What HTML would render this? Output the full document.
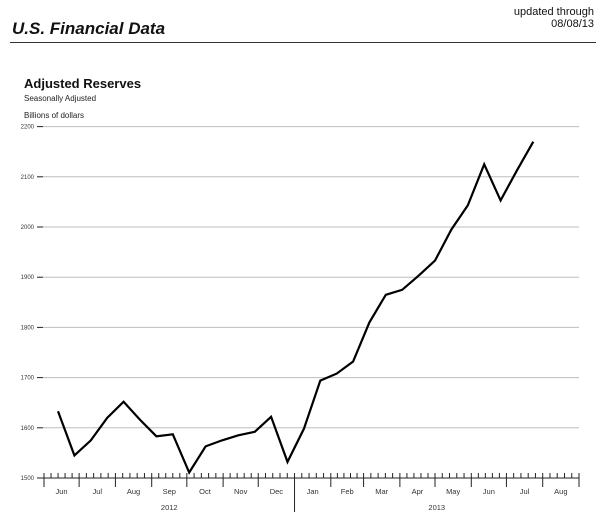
<!DOCTYPE html>
<html><head><meta charset="utf-8"><style>
body{margin:0;background:#fff;width:600px;height:525px;overflow:hidden;font-family:"Liberation Sans",sans-serif}
svg{display:block}
</style></head><body>
<svg id="chart" width="600" height="525">
<text x="12" y="34" font-size="17" font-style="italic" font-weight="bold" fill="#111">U.S. Financial Data</text>
<text x="594" y="15" font-size="11" text-anchor="end" fill="#111">updated through</text>
<text x="594" y="27" font-size="11" text-anchor="end" fill="#111">08/08/13</text>
<line x1="10" y1="42.5" x2="596" y2="42.5" stroke="#333" stroke-width="1"/>
<text x="24" y="88" font-size="13" font-weight="bold" fill="#111">Adjusted Reserves</text>
<text x="24" y="101" font-size="8" fill="#222">Seasonally Adjusted</text>
<text x="24" y="118" font-size="8" fill="#222">Billions of dollars</text>
<g id="grid"></g><g id="axis"></g><g id="series"></g>
</svg>
<script>
const yTicks=[1500,1600,1700,1800,1900,2000,2100,2200];
const monthLabels=["Jun","Jul","Aug","Sep","Oct","Nov","Dec","Jan","Feb","Mar","Apr","May","Jun","Jul","Aug"];
const yearLabels=["2012","2013"];
const startDate="2012-06-13";
const values=[1633,1545,1575,1620,1652,1616,1583,1587,1511,1563,1575,1585,1592,1622,1532,1598,1694,1708,1732,1810,1865,1875,1903,1933,1995,2043,2125,2053,2113,2170];

const NS="http://www.w3.org/2000/svg";
const X0=44,X1=579,Y0=478,Y1=126.6;
const origin=Date.UTC(2012,5,1),end=Date.UTC(2013,8,1);
const DAY=86400000;
function xScale(t){return X0+(t-origin)/(end-origin)*(X1-X0);}
function yScale(v){return Y0-(v-1500)/(2200-1500)*(Y0-Y1);}
function mk(tag,attrs,parent){const e=document.createElementNS(NS,tag);for(const k in attrs)e.setAttribute(k,attrs[k]);parent.appendChild(e);return e;}
const grid=document.getElementById('grid'),axis=document.getElementById('axis'),ser=document.getElementById('series');

yTicks.forEach(v=>{
  const y=yScale(v);
  if(v>1500){const g=mk('line',{x1:43,x2:X1,y1:y,y2:y,stroke:'#bdbdbd','stroke-width':1},grid);
  
  }
  const tk=mk('line',{x1:37,x2:43,y1:y,y2:y,stroke:'#222','stroke-width':1},axis);
  
  
  const t=mk('text',{x:34,y:y+2,'font-size':6,'text-anchor':'end',fill:'#333'},axis);
  t.textContent=v;
  
  
});
const base=mk('line',{x1:37,x2:X1,y1:Y0,y2:Y0,stroke:'#222','stroke-width':1},axis);



for(let i=0;i<=monthLabels.length;i++){
  const t=Date.UTC(2012,5+i,1),x=xScale(t);
  const isYear=(i===7);
  const mt=mk('line',{x1:x,x2:x,y1:Y0-5,y2:isYear?Y0+34:Y0+9,stroke:'#222','stroke-width':1},axis);
  
  
  if(i<monthLabels.length){
    const tn=Date.UTC(2012,6+i,1),xn=xScale(tn);
    for(let k=1;k<=4;k++){
      const xm=x+(xn-x)*k/5;
      const m=mk('line',{x1:xm,x2:xm,y1:Y0-5,y2:Y0,stroke:'#222','stroke-width':1},axis);
      
      
    }
    const lb=mk('text',{x:(x+xn)/2,y:Y0+16,'font-size':7.5,'text-anchor':'middle',fill:'#333'},axis);
    lb.textContent=monthLabels[i];
    
    
  }
}
[[Date.UTC(2012,5,1),Date.UTC(2013,0,1)],[Date.UTC(2013,0,1),end]].forEach((r,i)=>{
  const yl=mk('text',{x:xScale((r[0]+r[1])/2),y:Y0+32,'font-size':7.5,'text-anchor':'middle',fill:'#333'},axis);
  yl.textContent=yearLabels[i];
  
  
});

const s0=Date.parse(startDate+"T00:00:00Z");
const pts=values.map((v,i)=>xScale(s0+i*14*DAY).toFixed(1)+','+yScale(v).toFixed(1)).join(' ');
const pl=mk('polyline',{points:pts,fill:'none',stroke:'#000','stroke-width':2.2,'stroke-linejoin':'miter'},ser);


</script>
</body></html>
